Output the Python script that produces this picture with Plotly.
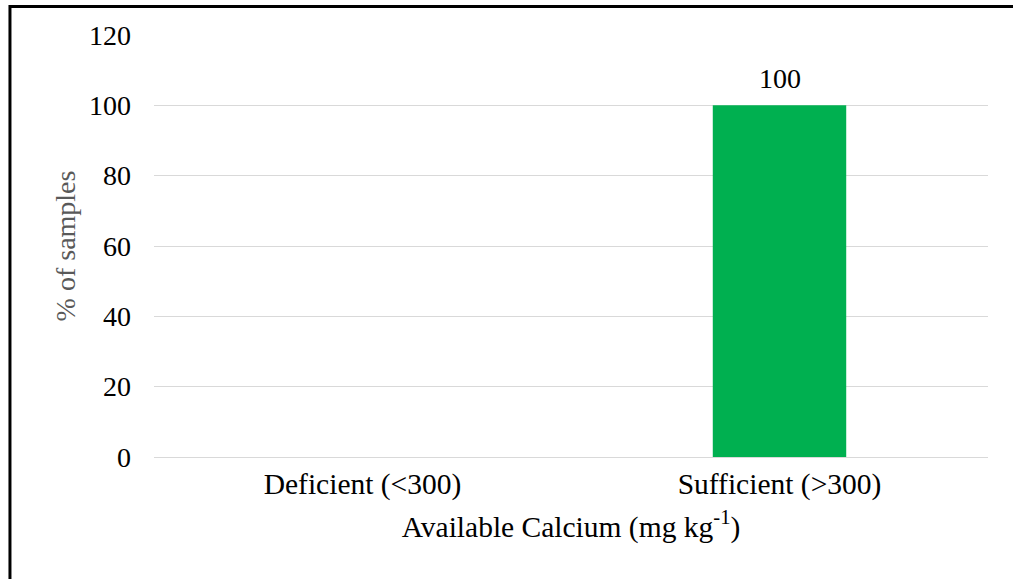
import plotly.graph_objects as go

# Soil test classes for available calcium and share of samples in each
categories = ["Deficient (&lt;300)", "Sufficient (&gt;300)"]
percent_samples = [0, 100]
y_ticks = [0, 20, 40, 60, 80, 100, 120]

FONT = "Liberation Serif, Times New Roman, serif"
GRID = "#d9d9d9"

fig = go.Figure(
    go.Bar(
        x=categories,
        y=percent_samples,
        marker=dict(color="#00b050", line=dict(width=0)),
        width=0.32,
        hoverinfo="x+y",
    )
)

# value labels above non-empty bars
for cat, val in zip(categories, percent_samples):
    if val:
        fig.add_annotation(
            x=cat,
            y=val,
            text=str(val),
            showarrow=False,
            yanchor="bottom",
            yshift=9,
            font=dict(family=FONT, size=28, color="#000000"),
        )

fig.update_layout(
    width=1013,
    height=579,
    margin=dict(l=154, r=25, t=35, b=122),
    paper_bgcolor="white",
    plot_bgcolor="white",
    font=dict(family=FONT, size=28, color="#000000"),
    showlegend=False,
    xaxis=dict(
        showgrid=False,
        showline=False,
        zeroline=False,
        ticks="",
        tickfont=dict(family=FONT, size=29.5, color="#000000"),
        ticklabelstandoff=6,
        title=dict(
            text="Available Calcium (mg kg<sup>-1</sup>)",
            font=dict(family=FONT, size=29.5, color="#000000"),
            standoff=16,
        ),
    ),
    yaxis=dict(
        range=[0, 120],
        tickvals=y_ticks,
        showgrid=True,
        gridcolor=GRID,
        gridwidth=1,
        zeroline=True,
        zerolinecolor=GRID,
        zerolinewidth=1,
        showline=False,
        ticks="",
        tickfont=dict(family=FONT, size=28, color="#000000"),
        ticklabelstandoff=22,
        title=dict(
            text="% of samples",
            font=dict(family=FONT, size=28, color="#595959"),
            standoff=5,
        ),
    ),
    shapes=[
        dict(
            type="rect",
            xref="paper",
            yref="paper",
            x0=-0.1727,
            x1=1.05,
            y0=-0.32,
            y1=1.0675,
            line=dict(color="#000000", width=3),
            fillcolor="rgba(0,0,0,0)",
            layer="above",
        )
    ],
)

fig.write_html("out.html")
